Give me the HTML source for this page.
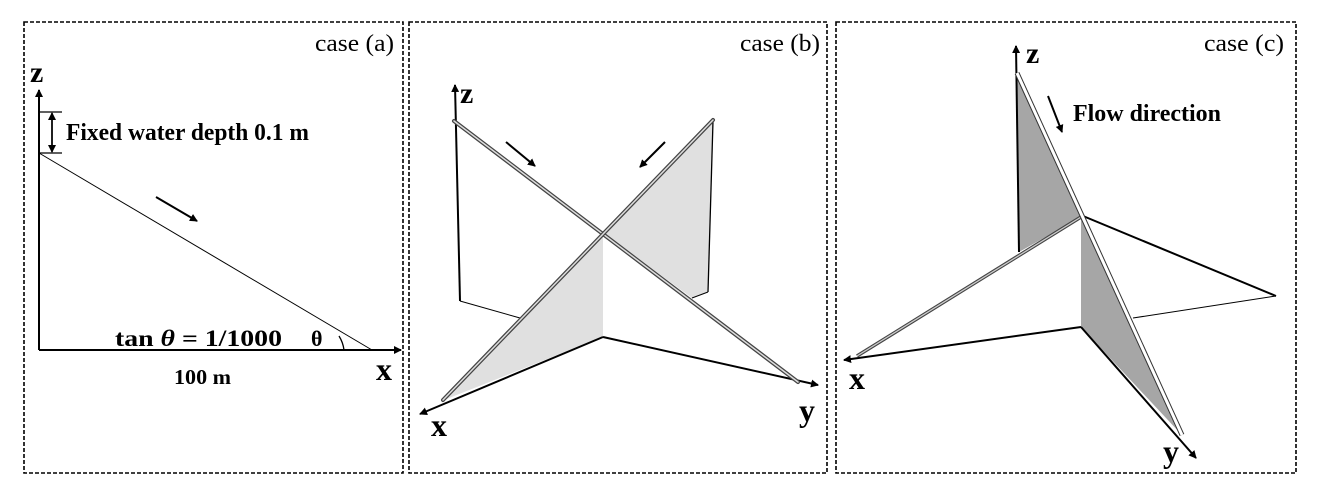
<!DOCTYPE html><html><head><style>body{margin:0;background:#fff}svg{display:block}text{font-family:"Liberation Serif",serif}</style></head><body>
<svg width="1317" height="499" viewBox="0 0 1317 499">
<defs><marker id="a" markerWidth="8" markerHeight="8" refX="7" refY="4" orient="auto" markerUnits="userSpaceOnUse"><path d="M0,0L8,4L0,8z" fill="#000"/></marker></defs>
<g fill="none" stroke="#000" stroke-width="1.6" stroke-dasharray="4,2">
<rect x="24" y="22" width="379" height="451"/><rect x="409" y="22" width="418" height="451"/><rect x="836" y="22" width="460" height="451"/></g>
<g font-size="24"><text x="315" y="51" textLength="79" lengthAdjust="spacingAndGlyphs">case (a)</text><text x="740" y="51" textLength="80" lengthAdjust="spacingAndGlyphs">case (b)</text><text x="1204" y="51" textLength="80" lengthAdjust="spacingAndGlyphs">case (c)</text></g>
<!-- case a -->
<g stroke="#000" fill="none">
<line x1="39" y1="350" x2="39" y2="90" stroke-width="2" marker-end="url(#a)"/>
<line x1="39" y1="350" x2="401" y2="350" stroke-width="2" marker-end="url(#a)"/>
<line x1="39" y1="153" x2="372" y2="350" stroke-width="1"/>
<line x1="52" y1="114" x2="52" y2="152" stroke-width="1.5" marker-end="url(#a)"/>
<line x1="52" y1="150" x2="52" y2="113" stroke-width="1.5" marker-end="url(#a)"/>
<line x1="40" y1="112" x2="62" y2="112" stroke-width="1.3"/>
<line x1="40" y1="153" x2="62" y2="153" stroke-width="1.3"/>
<line x1="156" y1="197" x2="197" y2="221" stroke-width="2" marker-end="url(#a)"/>
<path d="M339,336 A34,34 0 0 1 344,350" stroke-width="1.3"/>
</g>
<g font-weight="bold"><text x="30" y="82" font-size="30">z</text><text x="376" y="380" font-size="32">x</text>
<text x="66" y="140" font-size="24" textLength="243" lengthAdjust="spacingAndGlyphs">Fixed water depth 0.1 m</text>
<text x="115" y="346" font-size="23" textLength="167" lengthAdjust="spacingAndGlyphs">tan <tspan font-style="italic">θ</tspan> = 1/1000</text>
<text x="311" y="346" font-size="22">θ</text><text x="174" y="384" font-size="21" textLength="57" lengthAdjust="spacingAndGlyphs">100 m</text></g>
<!-- case b -->
<polygon points="603,233 713,121 708,292 692,298" fill="#e0e0e0"/>
<polygon points="603,233 603,337 444,400" fill="#e0e0e0"/>
<g stroke="#000" fill="none">
<line x1="460" y1="301" x2="455" y2="85" stroke-width="2" marker-end="url(#a)"/>
<line x1="460" y1="301" x2="520" y2="318" stroke-width="1"/>
<line x1="713" y1="121" x2="708" y2="292" stroke-width="1.3"/>
<line x1="708" y1="292" x2="692" y2="298" stroke-width="1"/>
<line x1="603" y1="337" x2="420" y2="414" stroke-width="2" marker-end="url(#a)"/>
<line x1="603" y1="337" x2="818" y2="385" stroke-width="2" marker-end="url(#a)"/>
<line x1="454" y1="121" x2="798" y2="382" stroke="#444" stroke-width="4" stroke-linecap="round"/>
<line x1="454" y1="121" x2="798" y2="382" stroke="#ddd" stroke-width="1.5" stroke-linecap="round"/>
<line x1="443" y1="400" x2="713" y2="120" stroke="#444" stroke-width="4" stroke-linecap="round"/>
<line x1="443" y1="400" x2="713" y2="120" stroke="#ddd" stroke-width="1.5" stroke-linecap="round"/>
<line x1="506" y1="142" x2="535" y2="166" stroke-width="2" marker-end="url(#a)"/>
<line x1="665" y1="142" x2="640" y2="167" stroke-width="2" marker-end="url(#a)"/>
</g>
<g font-weight="bold"><text x="460" y="103" font-size="30">z</text><text x="431" y="436" font-size="32">x</text><text x="799" y="421" font-size="32">y</text></g>
<!-- case c -->
<polygon points="1017,73 1081,217 1019,252" fill="#a6a6a6"/>
<polygon points="1081,217 1081,327 1180,433 " fill="#a6a6a6"/>
<g stroke="#000" fill="none">
<line x1="1019" y1="252" x2="1016" y2="46" stroke-width="2" marker-end="url(#a)"/>
<line x1="1081" y1="327" x2="844" y2="360" stroke-width="2" marker-end="url(#a)"/>
<line x1="1081" y1="327" x2="1196" y2="458" stroke-width="2" marker-end="url(#a)"/>
<line x1="1083" y1="216" x2="1276" y2="296" stroke-width="2"/>
<line x1="1276" y1="296" x2="1133" y2="318" stroke-width="1"/>
<line x1="857" y1="356" x2="1081" y2="217" stroke="#444" stroke-width="3.5"/>
<line x1="857" y1="356" x2="1081" y2="217" stroke="#ccc" stroke-width="1.3"/>
<line x1="1017" y1="73" x2="1182" y2="435" stroke="#333" stroke-width="5"/>
<line x1="1017" y1="73" x2="1182" y2="435" stroke="#fff" stroke-width="3"/>
<line x1="1048" y1="96" x2="1062" y2="132" stroke-width="2" marker-end="url(#a)"/>
</g>
<g font-weight="bold"><text x="1026" y="63" font-size="30">z</text><text x="849" y="389" font-size="32">x</text><text x="1163" y="462" font-size="32">y</text>
<text x="1073" y="121" font-size="24" textLength="148" lengthAdjust="spacingAndGlyphs">Flow direction</text></g>
</svg></body></html>
